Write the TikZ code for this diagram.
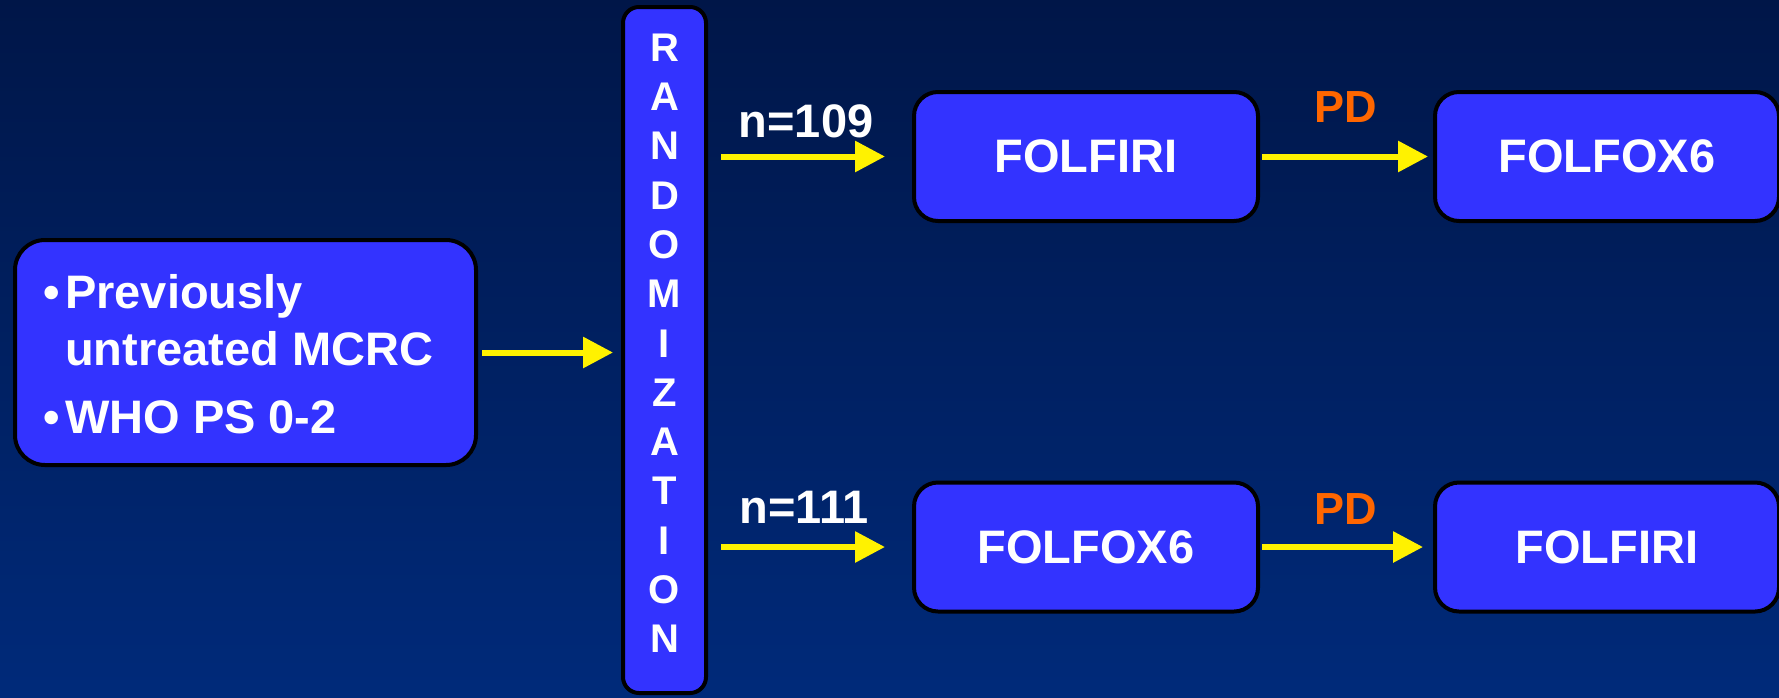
\documentclass[tikz,border=0pt]{standalone}
\usepackage{fontspec}
\setmainfont{Liberation Sans}
\usetikzlibrary{arrows.meta}
\definecolor{slidetop}{RGB}{0,22,72}
\definecolor{slidebottom}{RGB}{0,42,122}
\definecolor{boxblue}{RGB}{51,51,255}
\definecolor{pdorange}{RGB}{255,102,0}

\begin{document}
\begin{tikzpicture}[
    x=1pt, y=-1pt,
    box/.style={
      draw=black,
      line width=4pt,
      fill=boxblue,
      rounded corners=24pt,
      inner sep=0pt,
      text=white,
      font=\fontsize{47}{56}\selectfont\bfseries,
    },
    arm/.style={box, minimum width=344pt, minimum height=129pt},
    txt/.style={inner sep=0pt, text=white, font=\fontsize{47}{56}\selectfont\bfseries},
    pd/.style={inner sep=0pt, text=pdorange, font=\fontsize{45}{54}\selectfont\bfseries},
    arrow/.style={
      -{Triangle[length=30pt,width=30pt]},
      line width=6pt,
      draw=yellow,
    },
  ]
    \useasboundingbox (0,0) rectangle (1779,697);
    \fill[top color=slidetop, bottom color=slidebottom] (0,0) rectangle (1779,697);

    % entry criteria
    \node[box, rounded corners=30pt, minimum width=461pt, minimum height=225pt]
      (crit) at (245.5,352.5) {};
    \node[txt, anchor=base] (b1) at (52,308) {\textbullet};
    \node[txt, anchor=base west] (c1) at (65,308) {Previously};
    \node[txt, anchor=base west] (c2) at (65,365) {untreated MCRC};
    \node[txt, anchor=base] (b2) at (52,433) {\textbullet};
    \node[txt, anchor=base west] (c3) at (65,433) {WHO PS 0-2};

    % randomization bar
    \node[box, rounded corners=16pt, minimum width=83pt, minimum height=686pt]
      (rand) at (664.5,350) {};
    \node[txt, align=center, font=\fontsize{40}{49.3}\selectfont\bfseries]
      (randtxt) at (664.5,343.3) {R\\A\\N\\D\\O\\M\\I\\Z\\A\\T\\I\\O\\N};

    % treatment arms
    \node[arm] (armA) at (1086,156.5) {FOLFIRI};
    \node[arm] (armB) at (1086,547) {FOLFOX6};
    \node[arm] (nextA) at (1607,156.5) {FOLFOX6};
    \node[arm] (nextB) at (1607,547) {FOLFIRI};

    \node[txt, anchor=base] (nA) at (806,137) {n=109};
    \node[txt, anchor=base] (nB) at (804,523) {n=111};
    \node[pd, anchor=base] (pdA) at (1346,122) {PD};
    \node[pd, anchor=base] (pdB) at (1346,524) {PD};

    \draw[arrow, shorten <=4pt, shorten >=8pt] (crit.east) -- (crit.east -| rand.west);
    \draw[arrow, shorten <=13pt, shorten >=27pt] (rand.east |- armA.west) -- (armA.west);
    \draw[arrow, shorten <=13pt, shorten >=27pt] (rand.east |- armB.west) -- (armB.west);
    \draw[arrow, shorten <=2pt, shorten >=5pt] (armA.east) -- (nextA.west);
    \draw[arrow, shorten <=2pt, shorten >=10pt] (armB.east) -- (nextB.west);
  \end{tikzpicture}
\end{document}
